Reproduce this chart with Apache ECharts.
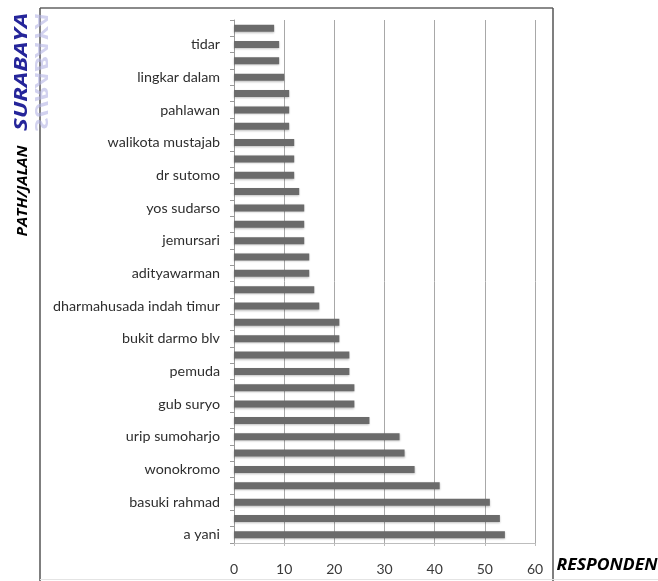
<!DOCTYPE html>
<html>
<head>
<meta charset="utf-8">
<script src="https://cdn.jsdelivr.net/npm/echarts@6/dist/echarts.min.js"></script>
<style>html,body{margin:0;padding:0;background:#fff}#c{width:658px;height:581px}</style>
</head>
<body>
<div id="c"></div>
<script>
// categories from bottom to top (unlabeled rows between the labeled ones)
var categories = [
  'a yani', '', 'basuki rahmad', '', 'wonokromo', '', 'urip sumoharjo', '',
  'gub suryo', '', 'pemuda', '', 'bukit darmo blv', '', 'dharmahusada indah timur', '',
  'adityawarman', '', 'jemursari', '', 'yos sudarso', '', 'dr sutomo', '',
  'walikota mustajab', '', 'pahlawan', '', 'lingkar dalam', '', 'tidar', ''
];
var responden = [
  54, 53, 51, 41, 36, 34, 33, 27,
  24, 24, 23, 23, 21, 21, 17, 16,
  15, 15, 14, 14, 14, 13, 12, 12,
  12, 11, 11, 11, 10, 9, 9, 8
];
var xTicks = [0, 10, 20, 30, 40, 50, 60];
var yTitle = 'PATH/JALAN';
var xTitle = 'RESPONDEN';
var cityTitle = 'SURABAYA';

var chart = echarts.init(document.getElementById('c'), null, {renderer: 'canvas'});
var labelFont = 'Lato, "Open Sans", sans-serif';
var titleFont = '"Open Sans", sans-serif';
chart.setOption({
  animation: false,
  grid: {left: 234, right: 123, top: 20, bottom: 38, containLabel: false},
  xAxis: {
    type: 'value',
    min: xTicks[0], max: xTicks[xTicks.length - 1], interval: 10,
    axisLine: {show: true, lineStyle: {color: '#bdbdbd', width: 1}},
    axisTick: {show: true, length: 3, lineStyle: {color: '#bdbdbd'}},
    splitLine: {show: true, lineStyle: {color: '#a8a8a8', width: 1}},
    axisLabel: {color: '#3a3a3a', fontSize: 14, fontFamily: labelFont, margin: 19}
  },
  yAxis: {
    type: 'category',
    data: categories,
    boundaryGap: true,
    axisLine: {show: true, lineStyle: {color: '#9a9a9a', width: 1}},
    axisTick: {show: true, length: 4, interval: 0, lineStyle: {color: '#9a9a9a'}},
    splitLine: {show: false},
    axisLabel: {interval: 1, color: '#2e2e2e', fontSize: 14.3, fontFamily: labelFont, margin: 14}
  },
  series: [{
    type: 'bar',
    data: responden,
    barWidth: 7,
    itemStyle: {color: '#6b6b6b', shadowColor: 'rgba(0,0,0,0.25)', shadowBlur: 2, shadowOffsetY: 1}
  }],
  graphic: [
    {type: 'line', shape: {x1: 40, y1: 8, x2: 553, y2: 8}, style: {stroke: '#8a8a8a', lineWidth: 2}},
    {type: 'line', shape: {x1: 40, y1: 8, x2: 40, y2: 581}, style: {stroke: '#555', lineWidth: 1.5}},
    {type: 'line', shape: {x1: 553, y1: 8, x2: 553, y2: 581}, style: {stroke: '#555', lineWidth: 1.5}},
    {type: 'line', shape: {x1: 40, y1: 579.5, x2: 658, y2: 579.5}, style: {stroke: '#e4e4e4', lineWidth: 1}},
    {type: 'text', x: 31, y: 72, rotation: Math.PI / 2, scaleX: 1.42, scaleY: -1,
      style: {text: cityTitle, fontFamily: titleFont, fontSize: 17, fontWeight: 'bold', fontStyle: 'italic',
        fill: '#b4b4e4', opacity: 0.6,
        textAlign: 'center', textVerticalAlign: 'bottom', align: 'center', verticalAlign: 'bottom'}},
    {type: 'text', x: 31, y: 72, rotation: Math.PI / 2, scaleX: 1.42,
      style: {text: cityTitle, fontFamily: titleFont, fontSize: 17, fontWeight: 'bold', fontStyle: 'italic',
        fill: '#25259a',
        textAlign: 'center', textVerticalAlign: 'bottom', align: 'center', verticalAlign: 'bottom'}},
    {type: 'text', x: 23, y: 191, rotation: Math.PI / 2, scaleX: 1.13,
      style: {text: yTitle, fontFamily: titleFont, fontSize: 14, fontWeight: 'bold', fontStyle: 'italic', fill: '#000',
        textAlign: 'center', textVerticalAlign: 'middle', align: 'center', verticalAlign: 'middle'}},
    {type: 'text', x: 607, y: 565, scaleX: 1.1,
      style: {text: xTitle, fontFamily: titleFont, fontSize: 16, fontWeight: 'bold', fontStyle: 'italic', fill: '#000',
        textAlign: 'center', textVerticalAlign: 'middle', align: 'center', verticalAlign: 'middle'}}
  ]
});
</script>
</body>
</html>
